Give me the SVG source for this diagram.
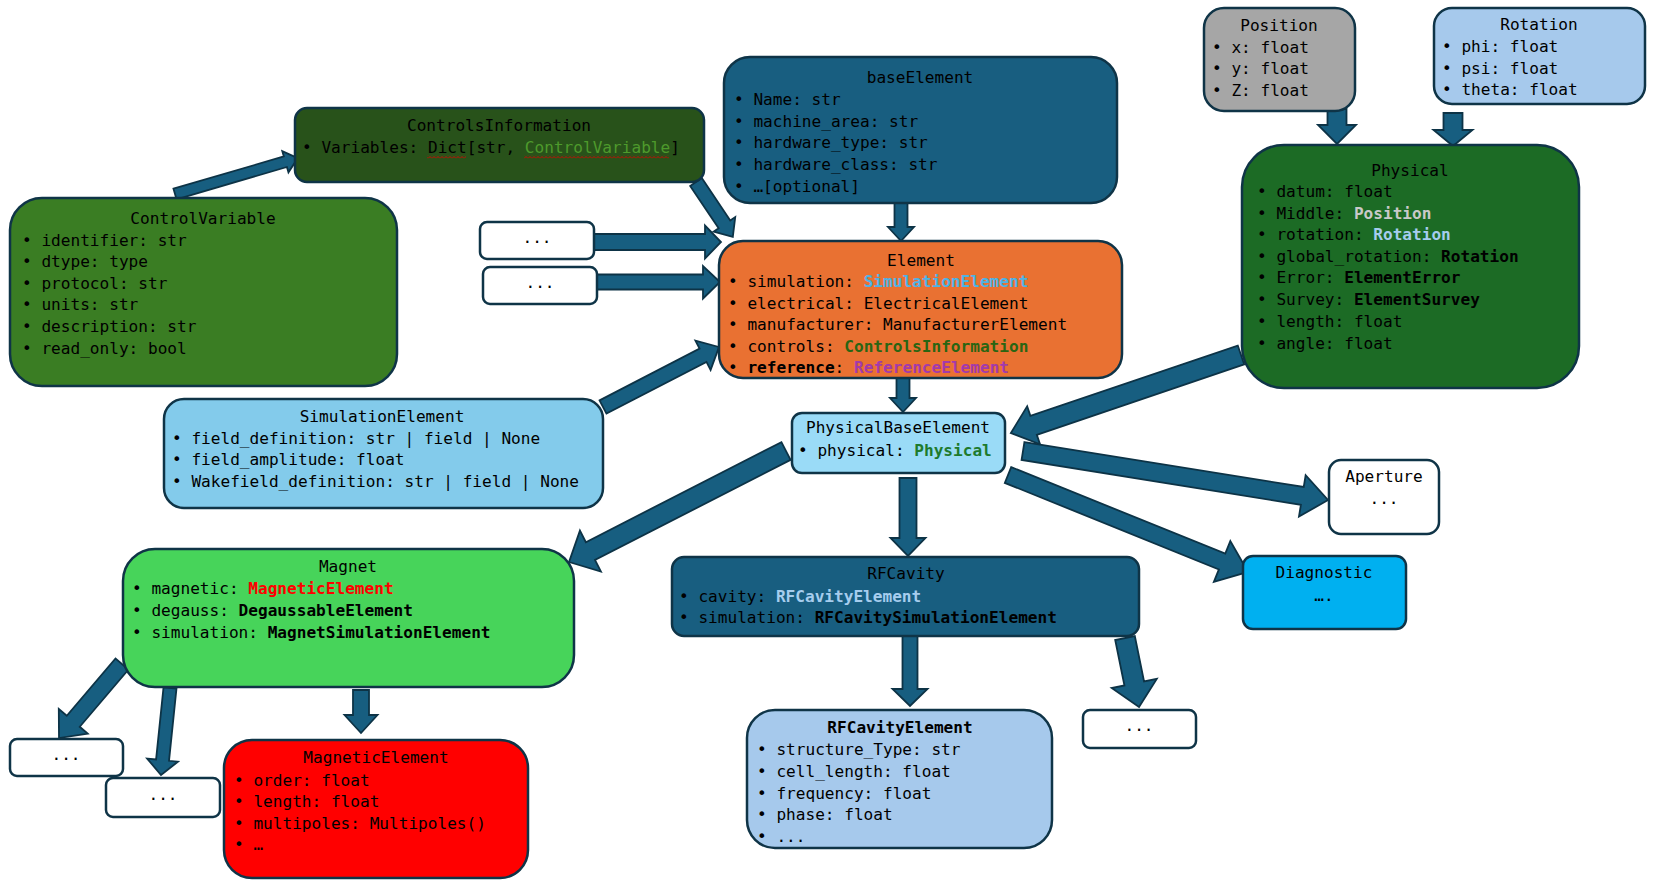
<svg xmlns="http://www.w3.org/2000/svg" width="1659" height="889" viewBox="0 0 1659 889">
<style>
text{font-family:"DejaVu Sans Mono","Liberation Mono",monospace;font-size:16.1px;fill:#000}
.t{text-anchor:middle}
.b{font-weight:bold}
.n{stroke:#0F3447;stroke-width:2.5}
.arr{fill:#175E80;stroke:#0D3346;stroke-width:1.8;stroke-linejoin:miter}
.w{fill:#FFFFFF}
</style>
<defs>
<pattern id="squig" width="4" height="3" patternUnits="userSpaceOnUse">
<path d="M0,2.5 L2,0.5 L4,2.5" stroke="#E00000" fill="none" stroke-width="0.9"/>
</pattern>
</defs>
<rect width="1659" height="889" fill="#FFFFFF"/>

<g id="connectors">
<polygon class="arr" transform="translate(175,194) rotate(-16.3)" points="0,-5.5 115,-5.5 115,-11 128,0 115,11 115,5.5 0,5.5"/>
<polygon class="arr" transform="translate(696,182) rotate(56.1)" points="0,-7 51,-7 51,-13 66,0 51,13 51,7 0,7"/>
<polygon class="arr" points="594,234 705,234 705,225.5 721,242 705,258.5 705,250 594,250"/>
<polygon class="arr" points="597,274.5 703,274.5 703,266 720,282 703,298.5 703,289.5 597,289.5"/>
<polygon class="arr" points="894.5,203 907.5,203 907.5,227 914,227 901,241 888,227 894.5,227"/>
<polygon class="arr" transform="translate(603,407) rotate(-27.35)" points="0,-7.5 112.6,-7.5 112.6,-16.5 130.6,0 112.6,16.5 112.6,7.5 0,7.5"/>
<polygon class="arr" points="896.5,378 909.5,378 909.5,398 916,398 903,412 890,398 896.5,398"/>
<polygon class="arr" transform="translate(1241,355) rotate(161.27)" points="0,-10 219,-10 219,-20 243,0 219,20 219,10 0,10"/>
<polygon class="arr" transform="translate(786,451) rotate(152.9)" points="0,-10 219.7,-10 219.7,-23 243.7,0 219.7,23 219.7,10 0,10"/>
<polygon class="arr" points="899.5,478 916.5,478 916.5,538 925.5,538 908,556 890.5,538 899.5,538"/>
<polygon class="arr" transform="translate(1023,451) rotate(9.13)" points="0,-9 282.9,-9 282.9,-21 308.9,0 282.9,21 282.9,9 0,9"/>
<polygon class="arr" transform="translate(1008,475) rotate(22)" points="0,-8.5 230.9,-8.5 230.9,-22 258.9,0 230.9,22 230.9,8.5 0,8.5"/>
<polygon class="arr" transform="translate(122,664) rotate(130.4)" points="0,-8.5 75.2,-8.5 75.2,-19 97.2,0 75.2,19 75.2,8.5 0,8.5"/>
<polygon class="arr" transform="translate(170,688) rotate(95.9)" points="0,-6.5 72.5,-6.5 72.5,-15.5 87.5,0 72.5,15.5 72.5,6.5 0,6.5"/>
<polygon class="arr" points="353,690 369,690 369,715 377.5,715 361,733 344.5,715 353,715"/>
<polygon class="arr" points="902.5,636 917.5,636 917.5,689 927.5,689 910,706 892.5,689 902.5,689"/>
<polygon class="arr" transform="translate(1125,638) rotate(78.5)" points="0,-10 46.4,-10 46.4,-23 70.4,0 46.4,23 46.4,10 0,10"/>
<polygon class="arr" points="1327.5,109 1346.5,109 1346.5,125 1356,125 1337,144 1318,125 1327.5,125"/>
<polygon class="arr" points="1443.5,113 1462.5,113 1462.5,130 1472.5,130 1453,146 1433.5,130 1443.5,130"/>
</g>

<g id="ControlsInformation">
<rect class="n" x="295" y="108" width="409" height="74" rx="12" fill="#28521A"/>
<text class="t" x="499" y="131">ControlsInformation</text>
<text x="302" y="153">• Variables: Dict[str, <tspan fill="#4E9A2C">ControlVariable</tspan>]</text>
<rect x="427" y="155.5" width="39" height="3" fill="url(#squig)"/>
<rect x="524" y="155.5" width="145" height="3" fill="url(#squig)"/>
</g>

<g id="ControlVariable">
<rect class="n" x="10" y="198" width="387" height="188" rx="32" fill="#3A7D23"/>
<text class="t" x="203" y="224">ControlVariable</text>
<text x="22" y="245.6">• identifier: str</text>
<text x="22" y="267.2">• dtype: type</text>
<text x="22" y="288.8">• protocol: str</text>
<text x="22" y="310.4">• units: str</text>
<text x="22" y="332">• description: str</text>
<text x="22" y="353.6">• read_only: bool</text>
</g>

<g id="baseElement">
<rect class="n" x="724" y="57" width="393" height="146" rx="26" fill="#185E80"/>
<text class="t" x="920" y="83">baseElement</text>
<text x="734" y="105">• Name: str</text>
<text x="734" y="126.7">• machine_area: str</text>
<text x="734" y="148.4">• hardware_type: str</text>
<text x="734" y="170.1">• hardware_class: str</text>
<text x="734" y="191.8">• …[optional]</text>
</g>

<g id="dots1">
<rect class="n w" x="480" y="222" width="114" height="37" rx="7"/>
<text class="t" x="537" y="243">...</text>
</g>
<g id="dots2">
<rect class="n w" x="483" y="267" width="114" height="37" rx="7"/>
<text class="t" x="540" y="288">...</text>
</g>

<g id="Element">
<rect class="n" x="719" y="241" width="403" height="137" rx="24" fill="#E97132"/>
<text class="t" x="921" y="266">Element</text>
<text x="728" y="287">• simulation: <tspan class="b" fill="#4DB3E6">SimulationElement</tspan></text>
<text x="728" y="308.5">• electrical: ElectricalElement</text>
<text x="728" y="330">• manufacturer: ManufacturerElement</text>
<text x="728" y="351.5">• controls: <tspan class="b" fill="#2A6512">ControlsInformation</tspan></text>
<text x="728" y="373">• <tspan class="b">reference</tspan>: <tspan class="b" fill="#A23AAB">ReferenceElement</tspan></text>
</g>

<g id="Position">
<rect class="n" x="1204" y="8" width="151" height="103" rx="20" fill="#A6A6A6"/>
<text class="t" x="1279" y="31">Position</text>
<text x="1212" y="52.5">• x: float</text>
<text x="1212" y="74">• y: float</text>
<text x="1212" y="95.5">• Z: float</text>
</g>

<g id="Rotation">
<rect class="n" x="1434" y="8" width="211" height="96" rx="18" fill="#A6C9EC"/>
<text class="t" x="1539" y="30">Rotation</text>
<text x="1442" y="52">• phi: float</text>
<text x="1442" y="73.5">• psi: float</text>
<text x="1442" y="95">• theta: float</text>
</g>

<g id="Physical">
<rect class="n" x="1242" y="145" width="337" height="243" rx="42" fill="#1C6B25"/>
<text class="t" x="1410" y="176">Physical</text>
<text x="1257" y="197">• datum: float</text>
<text x="1257" y="218.5">• Middle: <tspan class="b" fill="#C9C9C9">Position</tspan></text>
<text x="1257" y="240">• rotation: <tspan class="b" fill="#A6CDEE">Rotation</tspan></text>
<text x="1257" y="261.7">• global_rotation: <tspan class="b">Rotation</tspan></text>
<text x="1257" y="283.4">• Error: <tspan class="b">ElementError</tspan></text>
<text x="1257" y="305.1">• Survey: <tspan class="b">ElementSurvey</tspan></text>
<text x="1257" y="326.8">• length: float</text>
<text x="1257" y="348.5">• angle: float</text>
</g>

<g id="SimulationElement">
<rect class="n" x="164" y="399" width="439" height="109" rx="20" fill="#83CBEB"/>
<text class="t" x="382" y="422">SimulationElement</text>
<text x="172" y="443.5">• field_definition: str | field | None</text>
<text x="172" y="465">• field_amplitude: float</text>
<text x="172" y="486.5">• Wakefield_definition: str | field | None</text>
</g>

<g id="PhysicalBaseElement">
<rect class="n" x="792" y="413" width="213" height="60" rx="10" fill="#9ADBF7"/>
<text class="t" x="898" y="433">PhysicalBaseElement</text>
<text x="798" y="455.5">• physical: <tspan class="b" fill="#1E7A2C">Physical</tspan></text>
</g>

<g id="Aperture">
<rect class="n w" x="1329" y="460" width="110" height="74" rx="12"/>
<text class="t" x="1384" y="482">Aperture</text>
<text class="t" x="1384" y="504">...</text>
</g>

<g id="Diagnostic">
<rect class="n" x="1243" y="556" width="163" height="73" rx="10" fill="#00B0F0"/>
<text class="t" x="1324" y="578">Diagnostic</text>
<text class="t" x="1324" y="601">….</text>
</g>

<g id="Magnet">
<rect class="n" x="123" y="549" width="451" height="138" rx="32" fill="#47D45A"/>
<text class="t" x="348" y="572">Magnet</text>
<text x="132" y="594">• magnetic: <tspan class="b" fill="#FF0000">MagneticElement</tspan></text>
<text x="132" y="616">• degauss: <tspan class="b">DegaussableElement</tspan></text>
<text x="132" y="638">• simulation: <tspan class="b">MagnetSimulationElement</tspan></text>
</g>

<g id="RFCavity">
<rect class="n" x="672" y="557" width="467" height="79" rx="12" fill="#185E80"/>
<text class="t" x="906" y="579">RFCavity</text>
<text x="679" y="601.5">• cavity: <tspan class="b" fill="#A6CDEE">RFCavityElement</tspan></text>
<text x="679" y="623">• simulation: <tspan class="b">RFCavitySimulationElement</tspan></text>
</g>

<g id="dotsA">
<rect class="n w" x="10" y="739" width="113" height="37" rx="7"/>
<text class="t" x="66" y="760">...</text>
</g>
<g id="dotsB">
<rect class="n w" x="106" y="778" width="114" height="39" rx="7"/>
<text class="t" x="163" y="800">...</text>
</g>
<g id="dotsC">
<rect class="n w" x="1083" y="710" width="113" height="38" rx="7"/>
<text class="t" x="1139" y="731">...</text>
</g>

<g id="MagneticElement">
<rect class="n" x="224" y="740" width="304" height="138" rx="28" fill="#FF0000"/>
<text class="t" x="376" y="763">MagneticElement</text>
<text x="234" y="785.5">• order: float</text>
<text x="234" y="807">• length: float</text>
<text x="234" y="828.5">• multipoles: Multipoles()</text>
<text x="234" y="850">• …</text>
</g>

<g id="RFCavityElement">
<rect class="n" x="747" y="710" width="305" height="138" rx="28" fill="#A6C9EC"/>
<text class="t b" x="900" y="733">RFCavityElement</text>
<text x="757" y="755">• structure_Type: str</text>
<text x="757" y="777">• cell_length: float</text>
<text x="757" y="798.5">• frequency: float</text>
<text x="757" y="820">• phase: float</text>
<text x="757" y="841.5">• ...</text>
</g>
</svg>
